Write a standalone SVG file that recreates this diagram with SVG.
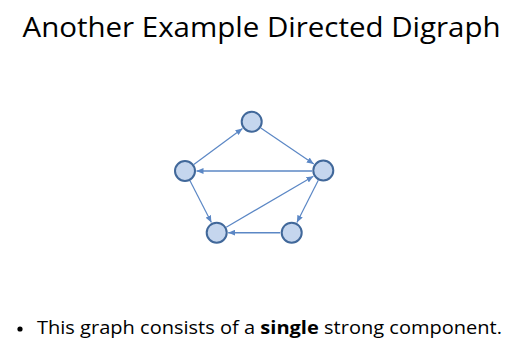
<svg xmlns="http://www.w3.org/2000/svg" width="527" height="360" viewBox="0 0 527 360">
  <style>
    .title { font-family: "Open Sans", "Noto Sans", "Liberation Sans", sans-serif; font-size: 28px; fill: #000; }
    .body { font-family: "Open Sans", "Noto Sans", "Liberation Sans", sans-serif; font-size: 18px; fill: #000; }
    .node circle { fill: #c5d6ee; stroke: #41689a; stroke-width: 2; }
    .edge { stroke: #5b87c5; stroke-width: 1.2; fill: none; marker-end: url(#arrow); }
    .edge.h { stroke-width: 1.6; }
  </style>
  <defs>
    <marker id="arrow" markerUnits="userSpaceOnUse" markerWidth="7" markerHeight="6" refX="7" refY="3" orient="auto">
      <path d="M0,0 L7,3 L0,6 z" fill="#5b87c5"/>
    </marker>
  </defs>
  <rect width="527" height="360" fill="#fff"/>

  <text class="title" x="22.5" y="37" textLength="478" lengthAdjust="spacingAndGlyphs">Another Example Directed Digraph</text>

  <g id="edges">
    <line class="edge" x1="193.8" y1="164.5" x2="242.5" y2="128.5"/>
    <line class="edge" x1="260.8" y1="127.9" x2="313.8" y2="164.0"/>
    <line class="edge h" x1="312" y1="171" x2="196.5" y2="171"/>
    <line class="edge" x1="190" y1="180.8" x2="211.4" y2="222.5"/>
    <line class="edge" x1="318.3" y1="180.3" x2="296.9" y2="222.5"/>
    <line class="edge h" x1="280.2" y1="232.7" x2="228.2" y2="232.7"/>
    <line class="edge" x1="226.2" y1="227.2" x2="313.4" y2="176.3"/>
  </g>

  <g id="n-top" class="node"><circle cx="251.7" cy="121.7" r="10"/></g>
  <g id="n-left" class="node"><circle cx="185" cy="171" r="10"/></g>
  <g id="n-right" class="node"><circle cx="323.3" cy="170.5" r="10"/></g>
  <g id="n-bottom-left" class="node"><circle cx="216.7" cy="232.7" r="10"/></g>
  <g id="n-bottom-right" class="node"><circle cx="291.7" cy="232.7" r="10"/></g>

  <circle cx="20" cy="329" r="2.6" fill="#000"/>
  <text class="body" x="37" y="334.3" textLength="465" lengthAdjust="spacingAndGlyphs">This graph consists of a <tspan font-weight="bold">single</tspan> strong component.</text>
</svg>
